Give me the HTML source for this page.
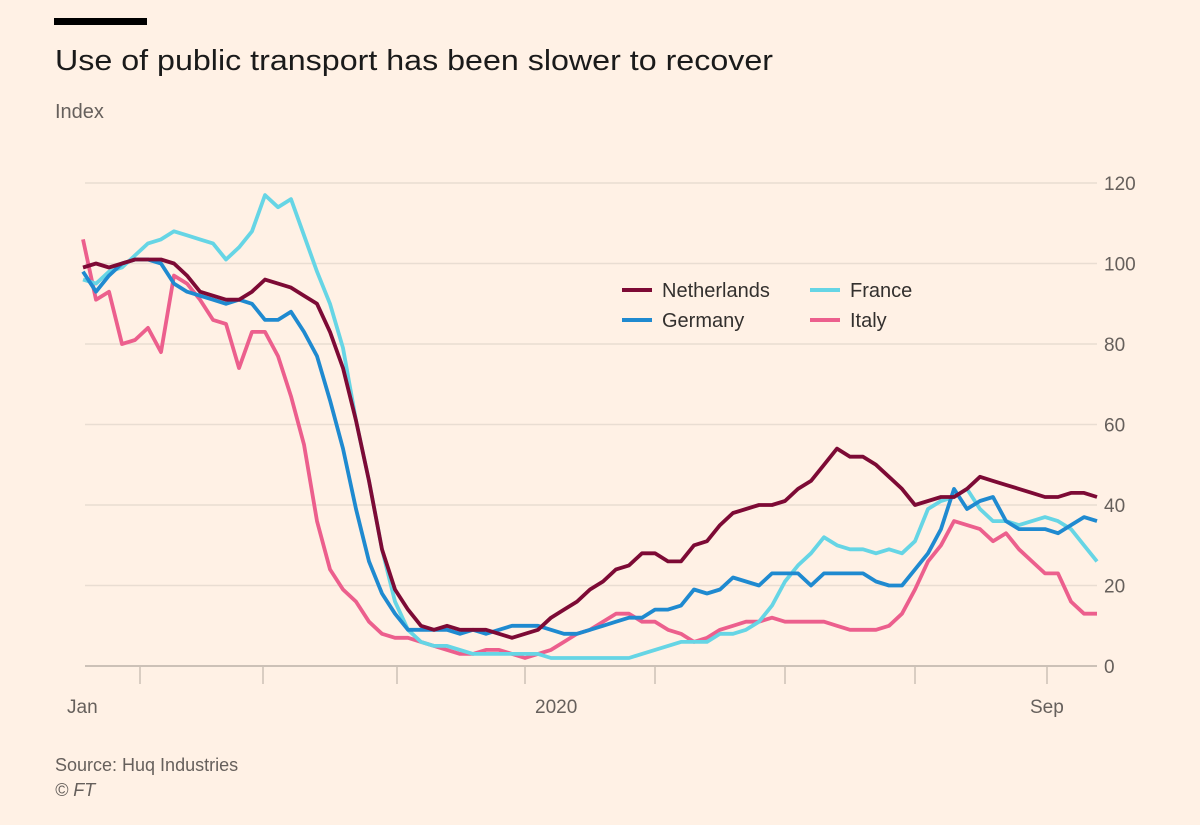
<!DOCTYPE html>
<html><head><meta charset="utf-8"><style>
body{margin:0;background:#fff1e5;}
svg{display:block;font-family:"Liberation Sans",sans-serif;}
</style></head><body>
<svg id="chart" width="1200" height="825" viewBox="0 0 1200 825">
<rect width="1200" height="825" fill="#fff1e5"/>
<rect x="54" y="18" width="93" height="7" fill="#000"/>
<text x="55" y="70" font-size="29" fill="#1a1a1a" textLength="718" lengthAdjust="spacingAndGlyphs">Use of public transport has been slower to recover</text>
<text x="55" y="118" font-size="20" fill="#66605c">Index</text>
<g id="grid"></g>
<g id="lines"></g>
<g>
<line x1="622" y1="290" x2="652" y2="290" stroke="#7d0a35" stroke-width="4"/>
<text x="662" y="297" font-size="20" fill="#33302e">Netherlands</text>
<line x1="622" y1="320" x2="652" y2="320" stroke="#1f8ad0" stroke-width="4"/>
<text x="662" y="327" font-size="20" fill="#33302e">Germany</text>
<line x1="810" y1="290" x2="840" y2="290" stroke="#66d5e5" stroke-width="4"/>
<text x="850" y="297" font-size="20" fill="#33302e">France</text>
<line x1="810" y1="320" x2="840" y2="320" stroke="#ec5f8d" stroke-width="4"/>
<text x="850" y="327" font-size="20" fill="#33302e">Italy</text>
</g>
<text x="55" y="771" font-size="18" fill="#66605c">Source: Huq Industries</text>
<text x="55" y="796" font-size="18" fill="#66605c" font-style="italic">© FT</text>
</svg>
<script>
const yTicks=[0,20,40,60,80,100,120];
const xTickPositions=[140,263,397,525,655,785,915,1047];
const xLabels=["Jan","2020","Sep"];
const netherlands=[99,100,99,100,101,101,101,100,97,93,92,91,91,93,96,95,94,92,90,83,74,61,46,29,19,14,10,9,10,9,9,9,8,7,8,9,12,14,16,19,21,24,25,28,28,26,26,30,31,35,38,39,40,40,41,44,46,50,54,52,52,50,47,44,40,41,42,42,44,47,46,45,44,43,42,42,43,43,42];
const germany=[98,93,97,100,101,101,100,95,93,92,91,90,91,90,86,86,88,83,77,66,54,39,26,18,13,9,9,9,9,8,9,8,9,10,10,10,9,8,8,9,10,11,12,12,14,14,15,19,18,19,22,21,20,23,23,23,20,23,23,23,23,21,20,20,24,28,34,44,39,41,42,36,34,34,34,33,35,37,36];
const france=[96,95,98,99,102,105,106,108,107,106,105,101,104,108,117,114,116,107,98,90,79,61,46,29,16,9,6,5,5,4,3,3,3,3,3,3,2,2,2,2,2,2,2,3,4,5,6,6,6,8,8,9,11,15,21,25,28,32,30,29,29,28,29,28,31,39,41,42,44,39,36,36,35,36,37,36,34,30,26];
const italy=[106,91,93,80,81,84,78,97,95,91,86,85,74,83,83,77,67,55,36,24,19,16,11,8,7,7,6,5,4,3,3,4,4,3,2,3,4,6,8,9,11,13,13,11,11,9,8,6,7,9,10,11,11,12,11,11,11,11,10,9,9,9,10,13,19,26,30,36,35,34,31,33,29,26,23,23,16,13,13];
const NS="http://www.w3.org/2000/svg";
const x0=83,x1=1097,yBase=666,yTop=183;
const yS=v=>yBase-(v/120)*(yBase-yTop);
const xS=(i,n)=>x0+i*(x1-x0)/(n-1);
const grid=document.getElementById('grid');
yTicks.forEach(t=>{
  const l=document.createElementNS(NS,'line');
  l.setAttribute('x1',85);l.setAttribute('x2',1097);
  l.setAttribute('y1',yS(t));l.setAttribute('y2',yS(t));
  l.setAttribute('stroke',t===0?'#ccc1b7':'#e9ddd2');
  l.setAttribute('stroke-width',t===0?2:1.5);
  
  
  grid.appendChild(l);
  const tx=document.createElementNS(NS,'text');
  tx.setAttribute('x',1104);tx.setAttribute('y',yS(t)+7);
  tx.setAttribute('font-size',19);tx.setAttribute('fill','#66605c');
  tx.textContent=t;
  
  
  grid.appendChild(tx);
});
xTickPositions.forEach(p=>{
  const l=document.createElementNS(NS,'line');
  l.setAttribute('x1',p);l.setAttribute('x2',p);
  l.setAttribute('y1',667);l.setAttribute('y2',684);
  l.setAttribute('stroke','#ccc1b7');l.setAttribute('stroke-width',1.5);
  
  
  grid.appendChild(l);
});
[[67,xLabels[0]],[535,xLabels[1]],[1030,xLabels[2]]].forEach(([x,s])=>{
  const tx=document.createElementNS(NS,'text');
  tx.setAttribute('x',x);tx.setAttribute('y',713);
  tx.setAttribute('font-size',19);tx.setAttribute('fill','#66605c');
  tx.textContent=s;
  
  
  grid.appendChild(tx);
});
const lines=document.getElementById('lines');
[[italy,'#ec5f8d','line-italy'],[france,'#66d5e5','line-france'],[germany,'#1f8ad0','line-germany'],[netherlands,'#7d0a35','line-netherlands']].forEach(([d,c,n])=>{
  const p=document.createElementNS(NS,'path');
  p.setAttribute('d',d.map((v,i)=>(i?'L':'M')+xS(i,d.length).toFixed(1)+','+yS(v).toFixed(1)).join(''));
  p.setAttribute('fill','none');p.setAttribute('stroke',c);
  p.setAttribute('stroke-width',3.8);p.setAttribute('stroke-linejoin','round');
  
  
  lines.appendChild(p);
});
</script>
</body></html>
